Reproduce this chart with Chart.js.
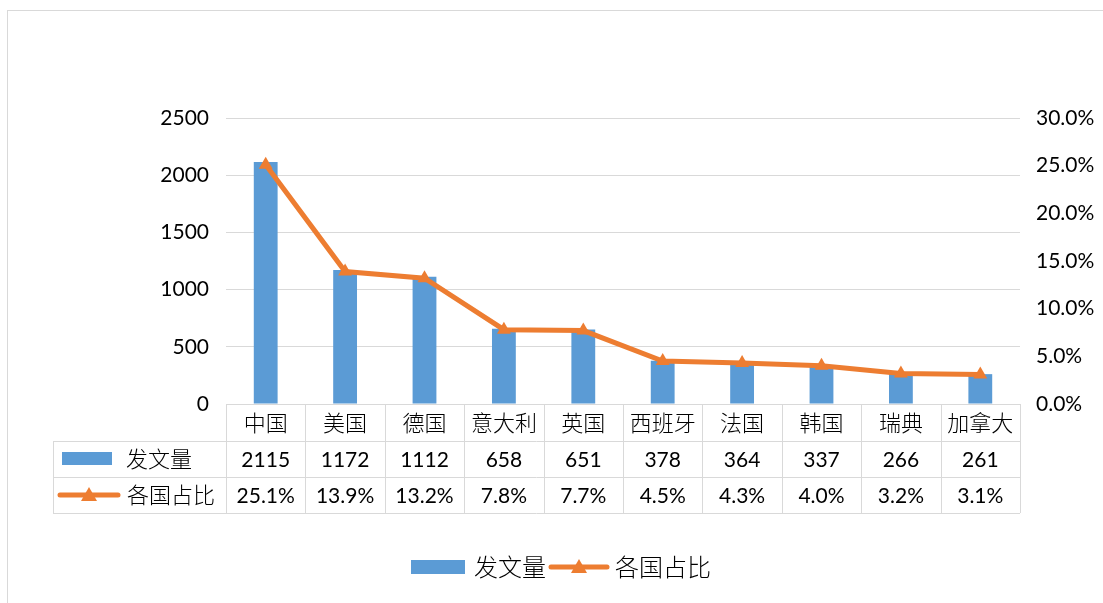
<!DOCTYPE html>
<html>
<head>
<meta charset="utf-8">
<script src="https://cdn.jsdelivr.net/npm/chart.js@4/dist/chart.umd.min.js"></script>
<style>
  html, body { margin: 0; padding: 0; background: #fff; }
  #wrap { width: 1103px; height: 603px; position: relative; }
</style>
</head>
<body>
<div id="wrap"><canvas id="c"></canvas></div>
<script>
// 数据
const categories = ['中国', '美国', '德国', '意大利', '英国', '西班牙', '法国', '韩国', '瑞典', '加拿大'];
const papers = [2115, 1172, 1112, 658, 651, 378, 364, 337, 266, 261];
const shares = [25.1, 13.9, 13.2, 7.8, 7.7, 4.5, 4.3, 4.0, 3.2, 3.1];
const seriesNames = ['发文量', '各国占比'];

const BLUE = '#5B9BD5';
const ORANGE = '#ED7D31';
const GRID = '#d9d9d9';
const NUM_FONT = "21px Lato, 'Noto Sans', sans-serif";
const CJK_FONT = "300 22px 'Noto Sans CJK SC', sans-serif";
const LEGEND_FONT = "300 24px 'Noto Sans CJK SC', sans-serif";

// 表格 + 图例 + 外框
const tablePlugin = {
  id: 'dataTable',
  afterDraw(chart) {
    const { ctx, chartArea } = chart;
    const x = chart.scales.x;
    const half = (x.getPixelForValue(1) - x.getPixelForValue(0)) / 2;
    const left = x.getPixelForValue(0) - half;
    const right = x.getPixelForValue(categories.length - 1) + half;
    const rows = [chartArea.bottom, 441, 477, 513];
    const tblLeft = 53;

    ctx.save();
    ctx.strokeStyle = GRID;
    ctx.lineWidth = 1;
    // 横线
    ctx.beginPath();
    ctx.moveTo(left, rows[0] + 0.5); ctx.lineTo(right, rows[0] + 0.5);
    for (let r = 1; r < rows.length; r++) {
      ctx.moveTo(tblLeft, rows[r] + 0.5); ctx.lineTo(right, rows[r] + 0.5);
    }
    // 竖线
    ctx.moveTo(tblLeft + 0.5, rows[1]); ctx.lineTo(tblLeft + 0.5, rows[3]);
    for (let i = 0; i <= categories.length; i++) {
      const px = Math.round(left + i * half * 2) + 0.5;
      ctx.moveTo(px, rows[0]); ctx.lineTo(px, rows[3]);
    }
    ctx.stroke();

    ctx.fillStyle = '#000';
    ctx.textAlign = 'center';
    ctx.textBaseline = 'middle';
    categories.forEach((c, i) => {
      const cx = x.getPixelForValue(i);
      ctx.font = CJK_FONT;
      ctx.fillText(c, cx, (rows[0] + rows[1]) / 2);
      ctx.font = NUM_FONT;
      ctx.fillText(String(papers[i]), cx, (rows[1] + rows[2]) / 2 + 1);
      ctx.fillText(shares[i].toFixed(1) + '%', cx, (rows[2] + rows[3]) / 2 + 1);
    });

    // 行标题
    const y1 = (rows[1] + rows[2]) / 2, y2 = (rows[2] + rows[3]) / 2;
    ctx.fillStyle = BLUE;
    ctx.fillRect(62, y1 - 7, 50, 13);
    drawLineKey(ctx, 60, 118, y2);
    ctx.fillStyle = '#000';
    ctx.textAlign = 'left';
    ctx.font = CJK_FONT;
    ctx.fillText(seriesNames[0], 126, y1);
    ctx.fillText(seriesNames[1], 127, y2);

    // 底部图例
    const ly = 567;
    ctx.font = LEGEND_FONT;
    ctx.fillStyle = BLUE;
    ctx.fillRect(411, ly - 7, 54, 14);
    ctx.fillStyle = '#000';
    ctx.fillText(seriesNames[0], 474, ly);
    drawLineKey(ctx, 551, 607, ly);
    ctx.fillStyle = '#000';
    ctx.fillText(seriesNames[1], 615, ly);

    // 外框
    ctx.strokeStyle = GRID;
    ctx.strokeRect(7.5, 10.5, 1200, 700);
    ctx.restore();
  }
};

function drawLineKey(ctx, x0, x1, y) {
  ctx.save();
  ctx.strokeStyle = ORANGE;
  ctx.lineWidth = 5;
  ctx.lineCap = 'round';
  ctx.beginPath(); ctx.moveTo(x0, y); ctx.lineTo(x1, y); ctx.stroke();
  const cx = (x0 + x1) / 2;
  ctx.fillStyle = ORANGE;
  ctx.beginPath();
  ctx.moveTo(cx, y - 8); ctx.lineTo(cx + 8, y + 6); ctx.lineTo(cx - 8, y + 6);
  ctx.closePath(); ctx.fill();
  ctx.restore();
}

new Chart(document.getElementById('c'), {
  type: 'bar',
  data: {
    labels: categories,
    datasets: [
      {
        type: 'line', label: seriesNames[1], data: shares, yAxisID: 'y1',
        borderColor: ORANGE, backgroundColor: ORANGE, borderWidth: 5,
        pointStyle: 'triangle', pointRadius: 8, pointBorderWidth: 0,
        tension: 0, order: 0,
      },
      {
        label: seriesNames[0], data: papers, yAxisID: 'y',
        backgroundColor: BLUE, barPercentage: 0.3, categoryPercentage: 1, order: 1,
      },
    ],
  },
  options: {
    responsive: true,
    maintainAspectRatio: false,
    animation: false,
    layout: { padding: { left: 0, right: 0, top: 118, bottom: 199 } },
    plugins: { legend: { display: false }, tooltip: { enabled: false } },
    scales: {
      x: { display: false },
      y: {
        position: 'left', min: 0, max: 2500,
        ticks: { stepSize: 500, color: '#000', font: { family: 'Lato', size: 21 }, padding: 17,
          callback: (v) => String(v) },
        grid: { color: GRID, drawTicks: false },
        border: { display: false },
        afterFit(s) { s.width = 226; },
      },
      y1: {
        position: 'right', min: 0, max: 30,
        ticks: { stepSize: 5, color: '#000', font: { family: 'Lato', size: 21 }, padding: 8,
          callback: (v) => v.toFixed(1) + '%' },
        grid: { display: false },
        border: { display: false },
        afterFit(s) { s.width = 83; },
      },
    },
  },
  plugins: [tablePlugin],
});
</script>
</body>
</html>
